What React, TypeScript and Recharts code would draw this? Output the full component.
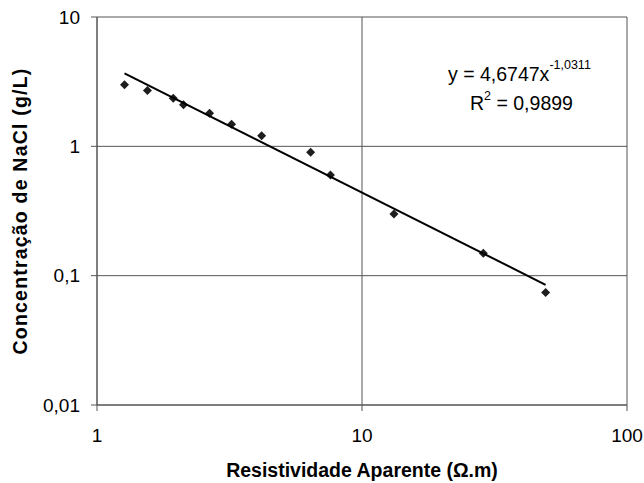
import React from "react";
import {
  ScatterChart,
  Scatter,
  XAxis,
  YAxis,
  CartesianGrid,
  Customized,
} from "recharts";

// medições: resistividade aparente (ohm.m) x concentração de NaCl (g/L)
const resistividade = [1.27, 1.55, 1.94, 2.12, 2.66, 3.22, 4.18, 6.4, 7.6, 13.2, 28.7, 49.3];
const concentracao = [3.0, 2.7, 2.35, 2.1, 1.8, 1.48, 1.21, 0.9, 0.6, 0.3, 0.149, 0.074];

// linha de tendência (potência), extremos
const trendX = [1.27, 49.3];
const trendY = [3.67, 0.085];

const xTicks = [1, 10, 100];
const yTicks = [0.01, 0.1, 1, 10];

const pontos = resistividade.map((x, i) => ({ x, y: concentracao[i] }));
const tendencia = trendX.map((x, i) => ({ x, y: trendY[i] }));

const FONT = "'Liberation Sans', Arial, sans-serif";
const fmt = (v: number) => String(v).replace(".", ",");

const Diamond = (props: any) => {
  const { cx, cy } = props;
  if (cx == null || cy == null) return null;
  const r = 4.5;
  return (
    <path
      d={`M${cx},${cy - r}L${cx + r},${cy}L${cx},${cy + r}L${cx - r},${cy}Z`}
      fill="#1e1e1e"
    />
  );
};

const Textos = (props: any) => {
  const off = props.offset || {};
  const left = off.left ?? 97;
  const top = off.top ?? 17;
  const w = off.width ?? 530;
  const h = off.height ?? 388;
  const midY = top + h / 2;
  return (
    <g fontFamily={FONT} fill="#000">
      <text x={448} y={81} fontSize={19.5}>
        y = 4,6747x
        <tspan fontSize={12.5} dy={-12}>-1,0311</tspan>
      </text>
      <text x={470} y={110} fontSize={19.5}>
        R
        <tspan fontSize={12.5} dy={-10}>2</tspan>
        <tspan dy={10}> = 0,9899</tspan>
      </text>
      <text
        x={20}
        y={midY}
        fontSize={19.5}
        fontWeight="bold"
        letterSpacing={1.2}
        textAnchor="middle"
        dominantBaseline="central"
        transform={`rotate(-90 20 ${midY})`}
      >
        Concentração de NaCl (g/L)
      </text>
      <text x={left + w / 2} y={477} fontSize={19.5} fontWeight="bold" textAnchor="middle">
        Resistividade Aparente (Ω.m)
      </text>
    </g>
  );
};

export default function App() {
  return (
    <div style={{ position: "absolute", left: 0, top: 0, width: 644, height: 483, background: "#fff" }}>
      <ScatterChart width={644} height={483} margin={{ top: 17, right: 17, left: 0, bottom: 0 }}>
        <CartesianGrid stroke="#555" strokeWidth={1} />
        <XAxis
          dataKey="x"
          type="number"
          scale="log"
          domain={[1, 100]}
          ticks={xTicks}
          allowDataOverflow
          height={78}
          tickSize={6}
          tickMargin={18}
          tickFormatter={fmt}
          stroke="#555"
          tick={{ fill: "#000", fontSize: 19, fontFamily: FONT }}
        />
        <YAxis
          dataKey="y"
          type="number"
          scale="log"
          domain={[0.01, 10]}
          ticks={yTicks}
          allowDataOverflow
          width={97}
          tickSize={6}
          tickMargin={11}
          tickFormatter={fmt}
          stroke="#555"
          tick={{ fill: "#000", fontSize: 19, fontFamily: FONT }}
        />
        <Scatter data={pontos} shape={<Diamond />} isAnimationActive={false} />
        <Scatter
          data={tendencia}
          line={{ stroke: "#000", strokeWidth: 2 }}
          shape={() => null}
          isAnimationActive={false}
        />
        <Customized component={Textos} />
      </ScatterChart>
    </div>
  );
}
